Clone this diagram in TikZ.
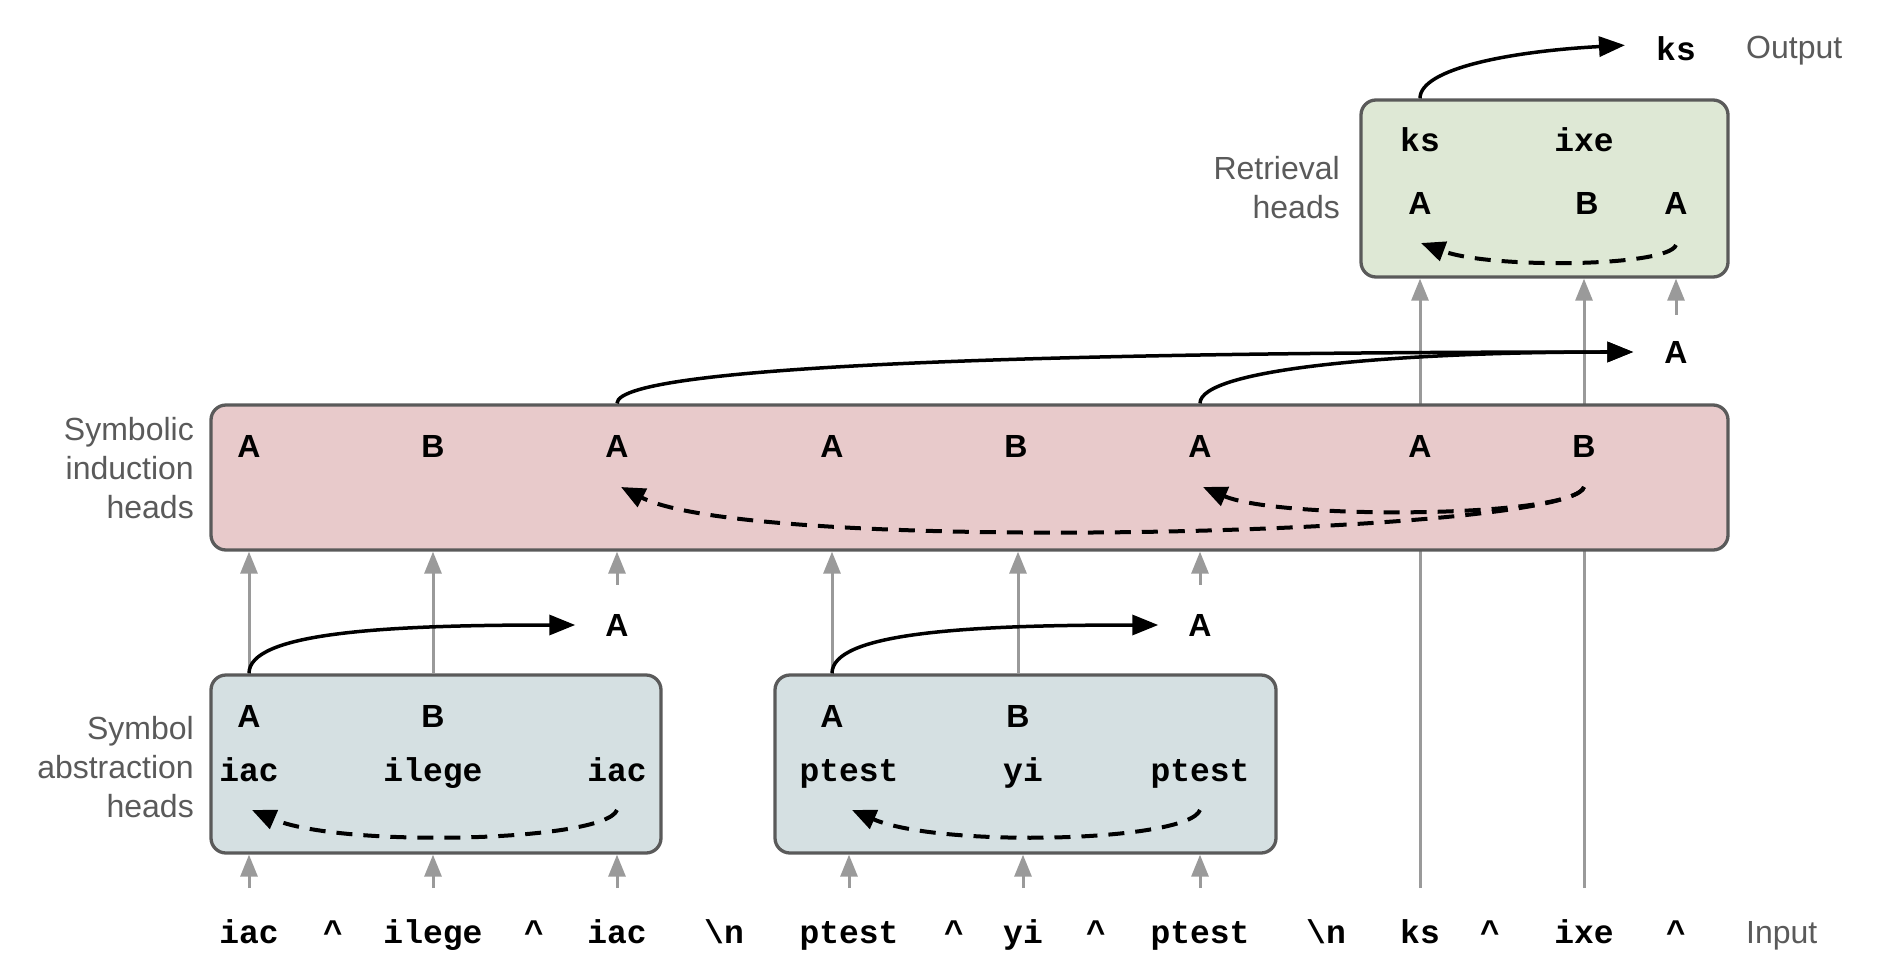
\documentclass[tikz,border=0pt]{standalone}
\usepackage{fontspec}
\setmainfont{Liberation Sans}
\newfontfamily\monof{Liberation Mono}
\usetikzlibrary{arrows.meta}
\pgfdeclarelayer{bg}
\pgfsetlayers{bg,main}
\definecolor{absfill}{HTML}{D5E0E2}
\definecolor{indfill}{HTML}{E8CACB}
\definecolor{retfill}{HTML}{DEE8D5}
\definecolor{boxline}{HTML}{5A5A5A}
\definecolor{labgray}{HTML}{5A5A5A}
\definecolor{arrgray}{HTML}{9A9A9A}
\tikzset{
  headbox/.style={draw=boxline, line width=3.3pt, rounded corners=15pt, inner sep=0pt},
  tok/.style={font=\monof\bfseries\fontsize{33}{33}\selectfont, inner sep=0pt, anchor=base},
  sym/.style={font=\bfseries\fontsize{32}{32}\selectfont, inner sep=0pt, anchor=base},
  sidelab/.style={font=\fontsize{32}{39}\selectfont, text=labgray, align=right, anchor=east, inner sep=0pt},
  endlab/.style={font=\fontsize{32}{39}\selectfont, text=labgray, anchor=base west, inner sep=0pt},
  garrow/.style={draw=arrgray, line width=3pt, -{Triangle[length=22pt,width=17pt]}},
  barrow/.style={draw=black, line width=3.5pt, -{Triangle[length=26pt,width=20pt]}},
  darrow/.style={draw=black, line width=4pt, dash pattern=on 16pt off 11pt, -{Triangle[length=24pt,width=20pt]}}
}
\begin{document}
\begin{tikzpicture}[x=1pt,y=-1pt]
\useasboundingbox (0,0) rectangle (1880,975);

% boxes
\node[headbox, fill=absfill, minimum width=450pt, minimum height=178pt] (abs1) at (436,764) {};
\node[headbox, fill=absfill, minimum width=501pt, minimum height=178pt] (abs2) at (1025.5,764) {};
\node[headbox, fill=indfill, minimum width=1517pt, minimum height=145pt] (ind) at (969.5,477.5) {};
\node[headbox, fill=retfill, minimum width=367pt, minimum height=177pt] (ret) at (1544.5,188.5) {};

% input row
\node[tok] (i1) at (249,943) {iac};
\node[tok] (i2) at (333,943) {\textasciicircum};
\node[tok] (i3) at (433,943) {ilege};
\node[tok] (i4) at (534,943) {\textasciicircum};
\node[tok] (i5) at (617,943) {iac};
\node[tok] (i6) at (724,943) {\textbackslash n};
\node[tok] (i7) at (849,943) {ptest};
\node[tok] (i8) at (954,943) {\textasciicircum};
\node[tok] (i9) at (1023,943) {yi};
\node[tok] (i10) at (1096,943) {\textasciicircum};
\node[tok] (i11) at (1200,943) {ptest};
\node[tok] (i12) at (1326,943) {\textbackslash n};
\node[tok] (i13) at (1420,943) {ks};
\node[tok] (i14) at (1490,943) {\textasciicircum};
\node[tok] (i15) at (1584,943) {ixe};
\node[tok] (i16) at (1676,943) {\textasciicircum};
\node[endlab] (inlab) at (1746,943) {Input};

% abstraction boxes content
\node[sym] (b1) at (249,727) {A};
\node[sym] (b2) at (433,727) {B};
\node[sym] (b3) at (832,727) {A};
\node[sym] (b4) at (1018,727) {B};
\node[tok] (s1) at (249,781) {iac};
\node[tok] (s2) at (433,781) {ilege};
\node[tok] (s3) at (617,781) {iac};
\node[tok] (s4) at (849,781) {ptest};
\node[tok] (s5) at (1023,781) {yi};
\node[tok] (s6) at (1200,781) {ptest};

% outputs of abstraction
\node[sym] (la1) at (617,636) {A};
\node[sym] (la2) at (1200,636) {A};

% induction box content
\node[sym] (n1) at (249,457) {A};
\node[sym] (n2) at (433,457) {B};
\node[sym] (n3) at (617,457) {A};
\node[sym] (n4) at (832,457) {A};
\node[sym] (n5) at (1016,457) {B};
\node[sym] (n6) at (1200,457) {A};
\node[sym] (n7) at (1420,457) {A};
\node[sym] (n8) at (1584,457) {B};
\node[sym] (la3) at (1676,363) {A};

% retrieval content
\node[tok] (r1) at (1420,151) {ks};
\node[tok] (r2) at (1584,151) {ixe};
\node[sym] (r3) at (1420,214) {A};
\node[sym] (r4) at (1587,214) {B};
\node[sym] (r5) at (1676,214) {A};
\node[tok] (o1) at (1676,60) {ks};
\node[endlab] (outlab) at (1746,58) {Output};

% side labels
\node[sidelab] (retlab) at (1340,188) {Retrieval\\heads};
\node[sidelab] (indlab) at (194,468) {Symbolic\\induction\\heads};
\node[sidelab] (abslab) at (194,767) {Symbol\\abstraction\\heads};

% gray arrows
\begin{pgfonlayer}{bg}
\draw[garrow] ([yshift=55pt]i13.base) -- (i13 |- ret.south);
\draw[garrow] ([yshift=55pt]i15.base) -- (i15 |- ret.south);
\end{pgfonlayer}
\draw[garrow] ([yshift=55pt]i1.base) -- (i1 |- abs1.south);
\draw[garrow] ([yshift=55pt]i3.base) -- (i3 |- abs1.south);
\draw[garrow] ([yshift=55pt]i5.base) -- (i5 |- abs1.south);
\draw[garrow] ([yshift=55pt]i7.base) -- (i7 |- abs2.south);
\draw[garrow] ([yshift=55pt]i9.base) -- (i9 |- abs2.south);
\draw[garrow] ([yshift=55pt]i11.base) -- (i11 |- abs2.south);
\draw[garrow] (b1 |- abs1.north) -- (b1 |- ind.south);
\draw[garrow] (b2 |- abs1.north) -- (b2 |- ind.south);
\draw[garrow] (b3 |- abs2.north) -- (b3 |- ind.south);
\draw[garrow] (b4 |- abs2.north) -- (b4 |- ind.south);
\draw[garrow] ([yshift=29pt]la1.north) -- (la1 |- ind.south);
\draw[garrow] ([yshift=29pt]la2.north) -- (la2 |- ind.south);
\draw[garrow] ([yshift=26pt]la3.north) -- (la3 |- ret.south);

% black arrows
\draw[barrow] (b1 |- abs1.north) .. controls +(0,-40) and +(-196,0) .. ([xshift=-30pt]la1.west);
\draw[barrow] (b3 |- abs2.north) .. controls +(0,-40) and +(-196,0) .. ([xshift=-30pt]la2.west);
\draw[barrow] (n3 |- ind.north) .. controls +(0,-40) and +(-533,0) .. ([xshift=-31pt]la3.west);
\draw[barrow] (n6 |- ind.north) .. controls +(0,-35) and +(-233,0) .. ([xshift=-31pt]la3.west);
\draw[barrow] (r3 |- ret.north) .. controls +(0,-30) and +(-113,6) .. ([xshift=-31pt,yshift=3pt]o1.west);

% dashed arrows
\draw[darrow] ([yshift=-29pt]s3.base) .. controls +(-12,32) and +(88,38) .. ([xshift=3pt,yshift=-29pt]s1.base);
\draw[darrow] ([yshift=-29pt]s6.base) .. controls +(-12,32) and +(88,38) .. ([xshift=3pt,yshift=-29pt]s4.base);
\draw[darrow] ([yshift=-30pt]n8.base) .. controls +(-10,31) and +(77,33) .. ([xshift=3pt,yshift=-30pt]n6.base);
\draw[darrow] ([yshift=-30pt]n8.base) .. controls +(-14,48) and +(133,68) .. ([xshift=4pt,yshift=-30pt]n3.base);
\draw[darrow] ([yshift=-31pt]r5.base) .. controls +(-8,22) and +(70,26) .. ([xshift=1pt,yshift=-29pt]r3.base);
\end{tikzpicture}
\end{document}
